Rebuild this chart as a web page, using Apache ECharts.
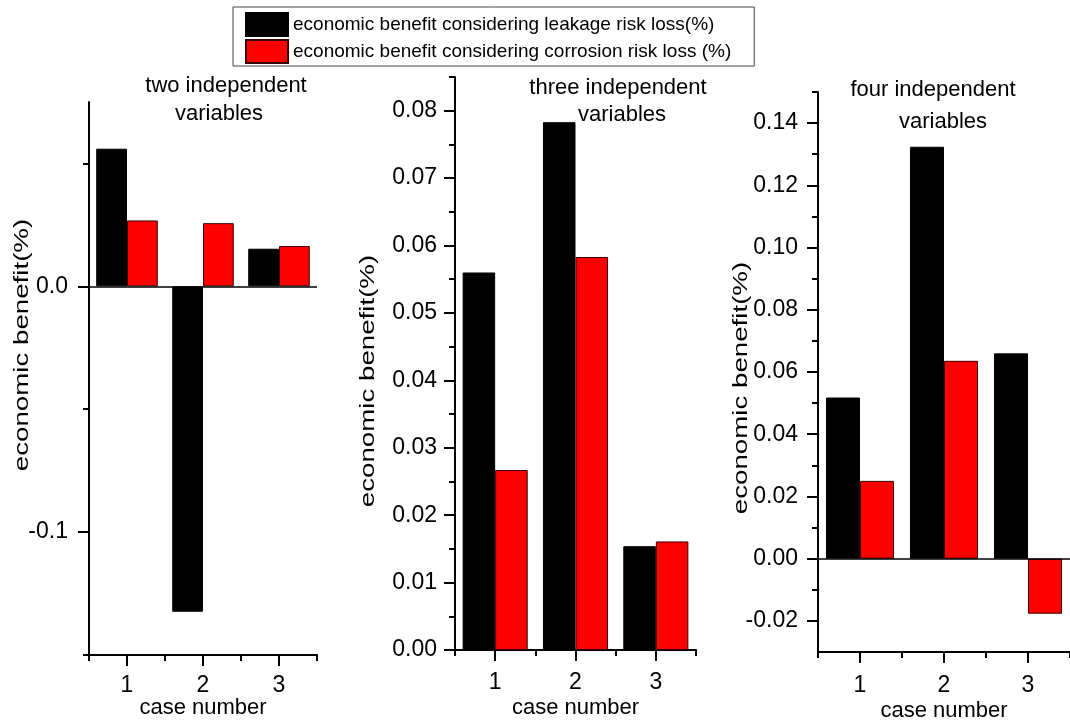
<!DOCTYPE html>
<html>
<head>
<meta charset="utf-8">
<script src="https://cdn.jsdelivr.net/npm/echarts@6/dist/echarts.min.js"></script>
<style>
  html, body { margin: 0; padding: 0; background: #ffffff; }
  #chart { width: 1070px; height: 720px; }
</style>
</head>
<body>
<div id="chart"></div>
<script>
// ---- data ----
const cases = ['1', '2', '3'];
const seriesNames = [
  'economic benefit considering leakage risk loss(%)',
  'economic benefit considering corrosion risk loss (%)'
];
// two independent variables
const leakTwo = [0.0560, -0.1324, 0.0153];
const corrTwo = [0.0268, 0.0257, 0.0164];
// three independent variables
const leakThree = [0.0560, 0.0783, 0.0154];
const corrThree = [0.0267, 0.0583, 0.0161];
// four independent variables
const leakFour = [0.0518, 0.1324, 0.0660];
const corrFour = [0.0250, 0.0636, -0.0177];

const panelTitles = [
  ['two independent', 'variables'],
  ['three independent', 'variables'],
  ['four independent', 'variables']
];
const yTitle = 'economic benefit(%)';
const xTitle = 'case number';

// axis ranges and tick values per panel
const yMin = [-0.15, 0, -0.03];
const yMax = [0.075, 0.085, 0.15];
const majorTicks = [
  [-0.1, 0],
  [0, 0.01, 0.02, 0.03, 0.04, 0.05, 0.06, 0.07, 0.08],
  [-0.02, 0, 0.02, 0.04, 0.06, 0.08, 0.10, 0.12, 0.14]
];
const minorTicks = [
  [-0.15, -0.05, 0.05],
  [0.005, 0.015, 0.025, 0.035, 0.045, 0.055, 0.065, 0.075, 0.085],
  [-0.01, 0.01, 0.03, 0.05, 0.07, 0.09, 0.11, 0.13, 0.15]
];
const labelDecimals = [1, 2, 2];

// ---- layout ----
const FONT = '"Liberation Sans", Arial, Helvetica, sans-serif';
const grids = [
  { left: 89,  top: 102, width: 228, height: 553 },
  { left: 455, top: 77,  width: 241, height: 573 },
  { left: 818, top: 92,  width: 252, height: 560 }
];
const yLabelMargin = [21, 18, 20];
const xLabelMargin = [19, 21, 22];
const xNameGap = [42, 47, 48];
const titlePos = [
  [[226, 86], [219, 114]],
  [[618, 88], [622, 115]],
  [[933, 90], [943, 122]]
];
const yTitlePos = [[22.5, 345], [369, 381], [741.5, 388]];

const leakData = [leakTwo, leakThree, leakFour];
const corrData = [corrTwo, corrThree, corrFour];

const black = '#000000';
const tickStyle = { color: black, width: 2 };

const xAxes = [];
const yAxes = [];
const series = [];
const graphics = [];

for (let i = 0; i < 3; i++) {
  // category axis carrying the bars, ticks at category boundaries
  xAxes.push({
    type: 'category', gridIndex: i, data: cases, position: 'bottom', boundaryGap: true,
    axisLine: { show: true, onZero: false, lineStyle: { color: black, width: 2 } },
    axisTick: { show: true, interval: 0, alignWithLabel: false, length: 6, lineStyle: tickStyle },
    axisLabel: { show: false },
    splitLine: { show: false }
  });
  // overlaid axis with the case labels and their longer ticks
  xAxes.push({
    type: 'category', gridIndex: i, data: cases, position: 'bottom', boundaryGap: true,
    axisLine: { show: false, onZero: false },
    axisTick: { show: true, interval: 0, alignWithLabel: true, length: 11, lineStyle: tickStyle },
    axisLabel: { show: true, interval: 0, fontSize: 23, color: black, fontFamily: FONT, margin: xLabelMargin[i] },
    splitLine: { show: false },
    name: xTitle, nameLocation: 'middle', nameGap: xNameGap[i], nameMoveOverlap: false,
    nameTextStyle: { fontSize: 22, color: black, fontFamily: FONT }
  });

  const d = labelDecimals[i];
  yAxes.push({
    type: 'value', gridIndex: i, min: yMin[i], max: yMax[i], position: 'left',
    axisLine: { show: true, onZero: false, lineStyle: { color: black, width: 2 } },
    axisTick: { show: true, customValues: majorTicks[i], length: 11, lineStyle: tickStyle },
    axisLabel: {
      show: true, customValues: majorTicks[i], fontSize: 23, color: black, fontFamily: FONT,
      margin: yLabelMargin[i], formatter: v => Number(v).toFixed(d)
    },
    splitLine: { show: false }
  });
  yAxes.push({
    type: 'value', gridIndex: i, min: yMin[i], max: yMax[i], position: 'left',
    axisLine: { show: false, onZero: false },
    axisTick: { show: true, customValues: minorTicks[i], length: 6, lineStyle: tickStyle },
    axisLabel: { show: false },
    splitLine: { show: false }
  });

  const leakSeries = {
    type: 'bar', name: seriesNames[0], xAxisIndex: 2 * i, yAxisIndex: 2 * i,
    data: leakData[i], barGap: '0%', barCategoryGap: '19%',
    itemStyle: { color: black, borderColor: black, borderWidth: 1 }
  };
  if (yMin[i] < 0) {
    // zero reference line across the panel
    leakSeries.markLine = {
      silent: true, symbol: 'none', label: { show: false },
      lineStyle: { color: black, width: 1.6, type: 'solid' },
      emphasis: { disabled: true },
      data: [{ yAxis: 0 }]
    };
  }
  series.push(leakSeries);
  series.push({
    type: 'bar', name: seriesNames[1], xAxisIndex: 2 * i, yAxisIndex: 2 * i,
    data: corrData[i], barGap: '0%', barCategoryGap: '19%',
    itemStyle: { color: '#ff0000', borderColor: '#3a0000', borderWidth: 1 }
  });

  // panel titles
  panelTitles[i].forEach((line, k) => {
    graphics.push({
      type: 'text', x: titlePos[i][k][0], y: titlePos[i][k][1], silent: true,
      style: {
        text: line, font: '22px ' + FONT, fill: black,
        align: 'center', verticalAlign: 'middle',
        textAlign: 'center', textVerticalAlign: 'middle'
      }
    });
  });
  // vertical axis title, elongated along its reading direction
  graphics.push({
    type: 'text', x: yTitlePos[i][0], y: yTitlePos[i][1], rotation: Math.PI / 2,
    scaleX: 1.42, scaleY: 1, silent: true,
    style: {
      text: yTitle, font: '19.5px ' + FONT, fill: black,
      align: 'center', verticalAlign: 'middle',
      textAlign: 'center', textVerticalAlign: 'middle'
    }
  });
}

const chart = echarts.init(document.getElementById('chart'), null, { renderer: 'canvas' });
chart.setOption({
  backgroundColor: '#ffffff',
  animation: false,
  textStyle: { fontFamily: FONT },
  legend: {
    data: seriesNames, orient: 'vertical', left: 233, top: 7,
    icon: 'rect', itemWidth: 42, itemHeight: 23, itemGap: 2,
    padding: [5, 23, 2, 12], borderColor: '#444444', borderWidth: 1,
    selectedMode: false,
    textStyle: { fontSize: 19, color: black, fontFamily: FONT }
  },
  // fixed plot rectangles; labels may sit outside them
  grid: grids.map(g => Object.assign({ containLabel: false, outerBoundsMode: 'none' }, g)),
  xAxis: xAxes,
  yAxis: yAxes,
  series: series,
  graphic: { elements: graphics }
});
</script>
</body>
</html>
